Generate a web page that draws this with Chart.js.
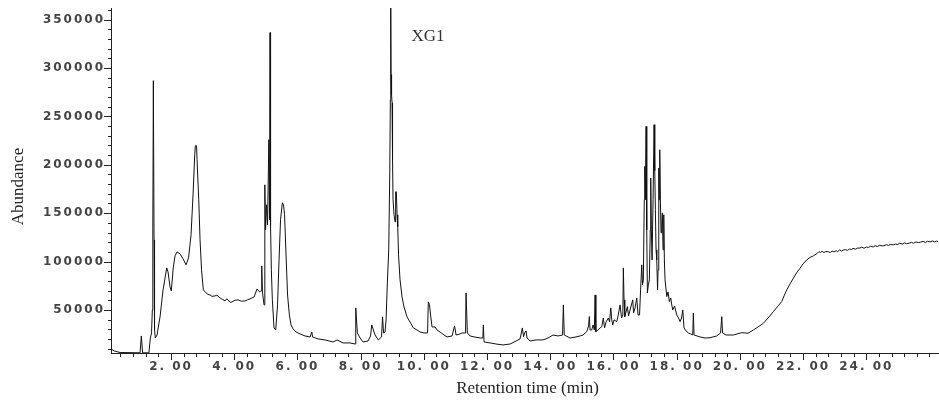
<!DOCTYPE html>
<html lang="en">
<head>
  <meta charset="UTF-8">
  <title>Chromatogram XG1</title>
  <script src="https://cdn.jsdelivr.net/npm/chart.js"></script>
  <style>
    body { margin: 0; background: #fff; }
    .chart-box { width: 939px; height: 404px; }
  </style>
</head>
<body>

<div class="chart-box">
  <canvas id="chromChart"></canvas>
</div>

<script>
  // [retention time (min), abundance], piece by piece
  const traceStart = [
    [0.10, 9700], [0.20, 7600], [0.39, 6000], [1.02, 5700], [1.04, 5700], [1.06, 23100], [1.08, 23100],
    [1.10, 5700], [1.30, 5700], [1.345, 21000], [1.383, 26200], [1.408, 50000], [1.424, 134800],
    [1.440, 286900], [1.462, 122400], [1.478, 29300], [1.503, 21000], [1.557, 24100], [1.652, 42800],
    [1.747, 70700], [1.864, 93450], [1.905, 89300], [1.968, 73800], [2.009, 69700], [2.073, 94500],
    [2.127, 105900], [2.190, 110000], [2.285, 107900], [2.380, 102800], [2.475, 96600], [2.554, 103800],
    [2.633, 127600], [2.696, 169000], [2.750, 210400], [2.769, 219700], [2.807, 219700], [2.823, 205200],
    [2.877, 163800], [2.918, 122400], [2.965, 91400], [3.022, 70700], [3.108, 67600], [3.17, 66000],
    [3.234, 65500], [3.30, 64000], [3.392, 64500], [3.45, 65200], [3.551, 62400], [3.62, 61000],
    [3.709, 59300], [3.76, 61500], [3.804, 60400], [3.87, 57800], [3.930, 58300], [4.02, 60000],
    [4.120, 60400], [4.23, 59000], [4.342, 59300], [4.42, 60500], [4.500, 61400], [4.627, 63400],
    [4.722, 71700], [4.801, 68600], [4.848, 69700], [4.870, 95500], [4.892, 68600], [4.943, 55200]
  ];

  const traceMid = [
    [4.968, 179300], [4.991, 132800], [5.022, 158600], [5.054, 137900], [5.095, 225900], [5.117, 143100],
    [5.133, 336600], [5.149, 136900], [5.174, 91400], [5.206, 60400], [5.259, 31400], [5.313, 29300],
    [5.370, 55200], [5.418, 101700], [5.465, 143100], [5.522, 160700], [5.560, 158600], [5.592, 148300],
    [5.639, 106900], [5.687, 65500], [5.744, 44800], [5.797, 34500], [5.861, 30400], [5.956, 27200],
    [6.082, 25200], [6.241, 23100], [6.399, 22100], [6.456, 27200], [6.478, 22100], [6.652, 20000],
    [6.873, 19000], [7.127, 16900], [7.253, 19000], [7.443, 15900], [7.665, 15900]
  ];

  const traceXG1 = [
    [7.823, 14800], [7.845, 52100], [7.896, 26200], [7.981, 21000], [8.076, 16900], [8.234, 17900],
    [8.313, 23100], [8.351, 34500], [8.392, 30400], [8.456, 24100], [8.560, 19000], [8.661, 22100],
    [8.693, 42800], [8.725, 26200], [8.772, 27200], [8.804, 39700], [8.845, 77900], [8.889, 112100],
    [8.921, 191700], [8.940, 267200], [8.953, 362000], [8.962, 293100], [8.978, 272400], [8.994, 264100],
    [9.009, 205200], [9.025, 163800], [9.057, 148300], [9.089, 141000], [9.108, 172100], [9.130, 172100],
    [9.152, 148300], [9.174, 135900], [9.199, 106900], [9.247, 81000], [9.310, 63400], [9.373, 53100],
    [9.468, 42800], [9.563, 37600], [9.668, 31400], [9.785, 29300], [9.880, 27200], [10.006, 26200],
    [10.117, 26200], [10.142, 58300], [10.180, 55200], [10.212, 44800], [10.259, 32400], [10.354, 32400],
    [10.418, 29300], [10.513, 27200], [10.639, 24100], [10.734, 22100], [10.892, 23100], [10.972, 33500],
    [11.019, 24100], [11.146, 25200], [11.209, 26200], [11.320, 26200], [11.335, 67600], [11.377, 26200],
    [11.462, 23100], [11.589, 22100], [11.778, 21000], [11.867, 21000], [11.883, 34500], [11.905, 16900],
    [12.095, 15900], [12.285, 14800], [12.506, 13800], [12.728, 14800], [12.918, 17900], [13.044, 20000],
    [13.117, 31400], [13.155, 22100], [13.187, 26200], [13.234, 28300], [13.266, 21000], [13.361, 17900],
    [13.551, 19000], [13.772, 19000], [13.930, 21000], [14.089, 24100], [14.247, 23100], [14.389, 24100],
    [14.415, 55200], [14.443, 24100], [14.627, 21000], [14.816, 22100], [14.943, 23100]
  ];

  const traceLate = [
    [15.038, 24100], [15.155, 27600], [15.212, 33500], [15.237, 43100], [15.259, 29300], [15.313, 29300],
    [15.354, 34500], [15.396, 29300], [15.418, 65500], [15.443, 27600], [15.513, 29300], [15.576, 31400],
    [15.630, 32700], [15.680, 41700], [15.718, 31400], [15.766, 37600], [15.839, 41700], [15.877, 37600],
    [15.915, 52100], [15.946, 39700], [15.978, 34500], [16.019, 39700], [16.104, 37900], [16.146, 43800],
    [16.209, 55200], [16.256, 41700], [16.297, 44800], [16.313, 93450], [16.335, 60400], [16.358, 43100],
    [16.399, 47900], [16.440, 53400], [16.478, 43800], [16.525, 50000], [16.611, 60400], [16.636, 46900],
    [16.684, 52100], [16.737, 62400], [16.778, 44800], [16.826, 44800], [16.858, 70700], [16.896, 96600],
    [16.921, 75900], [16.946, 81000], [16.975, 163800], [16.991, 198300], [17.009, 163800], [17.032, 239600],
    [17.054, 132800], [17.073, 67600], [17.104, 75900], [17.136, 81000], [17.165, 132800], [17.180, 186300],
    [17.199, 132800], [17.222, 101700], [17.253, 163800], [17.285, 241400], [17.307, 194000], [17.326, 153500],
    [17.348, 112100], [17.370, 101700], [17.396, 70700], [17.411, 91400], [17.434, 196600], [17.449, 163800],
    [17.465, 215500], [17.484, 163800], [17.506, 129700], [17.528, 137900], [17.547, 150300], [17.570, 112100],
    [17.592, 148300], [17.611, 101700], [17.633, 81000], [17.687, 63800], [17.728, 68600], [17.769, 58600],
    [17.813, 62400], [17.845, 55200], [17.877, 50000], [17.934, 54100], [18.003, 44800], [18.060, 41700],
    [18.108, 37900], [18.155, 41700], [18.193, 50000], [18.234, 31400], [18.297, 28300], [18.370, 26200],
    [18.440, 25200], [18.509, 24100], [18.528, 46900], [18.551, 24100], [18.646, 23100], [18.741, 22100],
    [18.899, 21000], [19.057, 21300], [19.269, 23100], [19.389, 26200], [19.427, 43100], [19.453, 26200],
    [19.563, 24100], [19.794, 24100], [19.911, 25200], [20.060, 26500]
  ];

  const tracePlateau = [
    [20.165, 26200], [20.259, 25900], [20.427, 29300], [20.576, 32400], [20.744, 36200], [20.892, 41700],
    [21.060, 48200], [21.209, 54100], [21.326, 58600], [21.399, 64500], [21.484, 70700], [21.589, 76900],
    [21.693, 82800], [21.794, 88300], [21.905, 93100], [22.000, 97600], [22.117, 101700], [22.222, 104300],
    [22.326, 105900], [22.45, 108500], [22.50, 110200], [22.55, 109400], [22.60, 110600], [22.66, 109200],
    [22.72, 110400], [22.80, 110100], [22.86, 109300], [22.92, 110800], [22.98, 110000], [23.05, 111200],
    [23.10, 110300], [23.16, 112100], [23.22, 110700], [23.27, 111900], [23.34, 112300], [23.40, 111500],
    [23.47, 113000], [23.53, 112400], [23.58, 113600], [23.66, 112800], [23.73, 114000], [23.80, 113900],
    [23.86, 114900], [23.93, 113700], [24.00, 115000], [24.07, 114600], [24.14, 115800], [24.22, 115100],
    [24.28, 116400], [24.35, 115500], [24.43, 116900], [24.50, 116100], [24.56, 116400], [24.63, 117500],
    [24.70, 116600], [24.78, 117900], [24.85, 117200], [24.92, 118000], [25.00, 117600], [25.06, 118900],
    [25.14, 118100], [25.21, 119300], [25.28, 118400], [25.36, 119000], [25.43, 119800], [25.50, 118900],
    [25.57, 120300], [25.65, 119500], [25.72, 120100], [25.80, 120800], [25.87, 119700], [25.94, 120900],
    [26.02, 120300], [26.09, 121300], [26.16, 120400], [26.22, 121100], [26.27, 120700]
  ];

  const trace = [].concat(traceStart, traceMid, traceXG1, traceLate, tracePlateau);

  // axes
  const xLabels = [2, 4, 6, 8, 10, 12, 14, 16, 18, 20, 22, 24];
  const xMinorStep = 0.4;
  const yLabels = [50000, 100000, 150000, 200000, 250000, 300000, 350000];
  const yMinorStep = 10000;
  const xRange = [0.1, 26.27];
  const yRange = [5500, 362000];

  const peakLabel = { text: 'XG1', t: 10.13, abundance: 332400 };

  var xTickValues = [];
  for (let k = 1; k * xMinorStep <= xRange[1]; k++) {
    xTickValues.push(Math.round(k * xMinorStep * 10) / 10);
  }
  var yTickValues = [];
  for (let v = yMinorStep; v <= yRange[1]; v += yMinorStep) {
    yTickValues.push(v);
  }

  function isMajorX(v) { return xLabels.some(l => Math.abs(l - v) < 1e-6); }
  function isMajorY(v) { return yLabels.includes(v); }

  // tick marks, axis titles and the peak label
  const axisDecor = {
    id: 'axisDecor',
    beforeDraw(chart) {
      chart.ctx.letterSpacing = '2px';
    },
    afterDraw(chart) {
      const ctx = chart.ctx;
      const xs = chart.scales.x, ys = chart.scales.y;
      const area = chart.chartArea;
      ctx.save();
      ctx.strokeStyle = '#222';
      ctx.lineWidth = 1;
      ctx.beginPath();
      xs.ticks.forEach(tk => {
        const px = Math.round(xs.getPixelForValue(tk.value)) + 0.5;
        const len = isMajorX(tk.value) ? 7 : 4;
        ctx.moveTo(px, area.bottom);
        ctx.lineTo(px, area.bottom + len);
      });
      ys.ticks.forEach(tk => {
        const py = Math.round(ys.getPixelForValue(tk.value)) + 0.5;
        const len = isMajorY(tk.value) ? 7 : 3;
        ctx.moveTo(area.left, py);
        ctx.lineTo(area.left - len, py);
      });
      ctx.stroke();

      ctx.letterSpacing = '0px';
      ctx.fillStyle = '#222';
      ctx.textAlign = 'center';
      ctx.textBaseline = 'middle';
      ctx.font = '17px "Liberation Serif"';
      ctx.fillText('Retention time (min)', (area.left + area.right) / 2 + 3, 389);

      ctx.save();
      ctx.translate(18.5, (area.top + area.bottom) / 2 + 6);
      ctx.rotate(-Math.PI / 2);
      ctx.fillText('Abundance', 0, 0);
      ctx.restore();

      ctx.fillStyle = '#333';
      ctx.font = '17px "Liberation Serif"';
      ctx.fillText(peakLabel.text, xs.getPixelForValue(peakLabel.t), ys.getPixelForValue(peakLabel.abundance));
      ctx.restore();
    }
  };

  const config = {
    type: 'line',
    data: {
      datasets: [{
        label: 'XG1',
        data: trace.map(p => ({ x: p[0], y: p[1] })),
        borderColor: '#111',
        borderWidth: 1,
        pointRadius: 0,
        tension: 0,
        fill: false
      }]
    },
    options: {
      responsive: true,
      maintainAspectRatio: false,
      animation: false,
      devicePixelRatio: 1,
      layout: { padding: { top: 8, right: 1, left: 0, bottom: 0 } },
      plugins: {
        legend: { display: false },
        tooltip: { enabled: false }
      },
      scales: {
        x: {
          type: 'linear',
          min: xRange[0],
          max: xRange[1],
          afterBuildTicks: s => { s.ticks = xTickValues.map(v => ({ value: v })); },
          afterFit: s => { s.height = 51; s.paddingLeft = 0; s.paddingRight = 0; },
          grid: { display: false, drawTicks: true, tickLength: 7 },
          border: { display: true, color: '#222', width: 1 },
          ticks: {
            autoSkip: false,
            maxRotation: 0,
            minRotation: 0,
            padding: 0,
            color: '#444',
            font: { family: 'DejaVu Sans', size: 12, weight: 'bold' },
            callback: v => isMajorX(v) ? v.toFixed(2).replace('.', '. ') : ''
          }
        },
        y: {
          type: 'linear',
          min: yRange[0],
          max: yRange[1],
          afterBuildTicks: s => { s.ticks = yTickValues.map(v => ({ value: v })); },
          afterFit: s => { s.width = 111; s.paddingTop = 0; s.paddingBottom = 0; },
          grid: { display: false, drawTicks: true, tickLength: 6 },
          border: { display: true, color: '#222', width: 1 },
          ticks: {
            autoSkip: false,
            padding: 0,
            color: '#444',
            font: { family: 'DejaVu Sans', size: 12, weight: 'bold' },
            callback: v => isMajorY(v) ? String(v) : ''
          }
        }
      }
    },
    plugins: [axisDecor]
  };

  const chromChart = new Chart(document.getElementById('chromChart'), config);
</script>
</body>
</html>
